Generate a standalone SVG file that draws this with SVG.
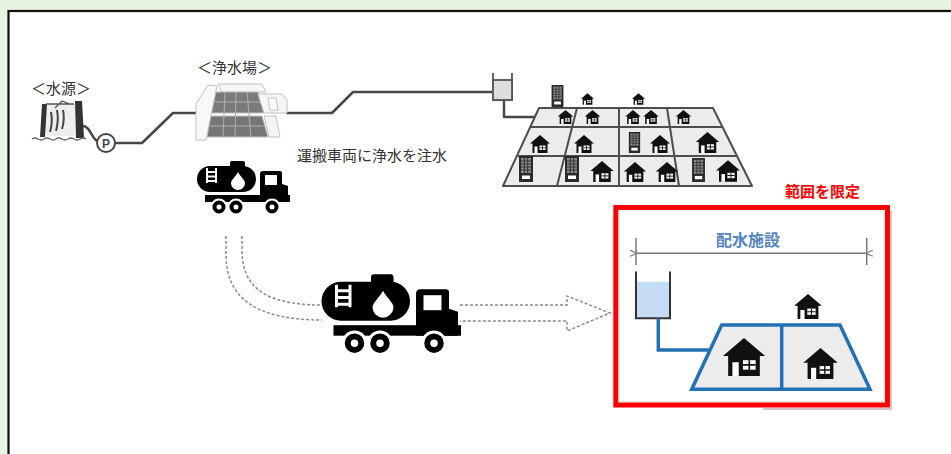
<svg xmlns="http://www.w3.org/2000/svg" width="951" height="454" viewBox="0 0 951 454">
<style>
  .lbl{font-family:"Noto Sans CJK JP","Noto Sans",sans-serif;font-size:15px;fill:#333}
  .pipe{fill:none;stroke:#474747;stroke-width:2.5;stroke-linejoin:round}
  .cell{fill:#ececec;stroke:#4d4d4d;stroke-width:2;stroke-linejoin:round}
  .grid{fill:none;stroke:#4d4d4d;stroke-width:2}
  .dot{fill:none;stroke:#8a8a8a;stroke-width:1.5;stroke-dasharray:3 2}
  .bpipe{fill:none;stroke:#2370b3;stroke-width:3.5;stroke-linejoin:miter}
  .plant{stroke:#c2c2c2;stroke-width:1;stroke-linejoin:round}
</style>
<defs>
  <symbol id="house" viewBox="0 0 40 36">
    <path d="M20,0 L40,17 H35 V36 H5 V17 H0 Z" fill="#111"/>
    <rect x="9" y="23" width="6" height="13" fill="#fff"/>
    <rect x="19" y="21" width="12" height="9" fill="#fff"/>
    <path d="M25,21 V30 M19,25.5 H31" stroke="#111" stroke-width="1.6"/>
  </symbol>
  <symbol id="building" viewBox="0 0 14 26">
    <rect x="0" y="0" width="14" height="26" fill="#2a2a2a"/>
    <rect x="2" y="2" width="10" height="15" fill="#8a8a8a"/>
    <path d="M5.3,2 V17 M8.7,2 V17 M2,5 H12 M2,8 H12 M2,11 H12 M2,14 H12" stroke="#2a2a2a" stroke-width="0.9"/>
    <rect x="3" y="19.5" width="8" height="3.5" fill="#fff"/>
  </symbol>
  <symbol id="truck" viewBox="0 0 95 55">
    <rect x="34" y="1" width="15" height="8" rx="2" fill="#000"/>
    <rect x="1" y="6" width="59" height="26" rx="13" fill="#000"/>
    <path d="M11,8 V23 M20,8 V23 M11,12 H20 M11,16.5 H20 M11,21 H20" stroke="#fff" stroke-width="2"/>
    <path d="M42,12 C40,16 35,20 35,23 A7,7 0 0 0 49,23 C49,20 44,16 42,12 Z" fill="#fff"/>
    <path d="M67,11 H84 Q86,11 86,13 V24 L92,26 V42 H64 V14 Q64,11 67,11 Z" fill="#000"/>
    <rect x="69" y="15" width="12" height="10" fill="#fff"/>
    <rect x="9" y="35" width="85" height="7" fill="#000"/>
    <g fill="#000" stroke="#fff" stroke-width="2">
      <circle cx="23" cy="47" r="7.5"/>
      <circle cx="40" cy="47" r="7.5"/>
      <circle cx="76" cy="47" r="7.5"/>
    </g>
    <g fill="#fff">
      <circle cx="23" cy="47" r="2.5"/>
      <circle cx="40" cy="47" r="2.5"/>
      <circle cx="76" cy="47" r="2.5"/>
    </g>
  </symbol>
  <marker id="dimArrow" viewBox="0 0 8 8" refX="1" refY="4" markerWidth="8" markerHeight="8" orient="auto-start-reverse" markerUnits="userSpaceOnUse">
    <path d="M8,1 L1,4 L8,7" fill="none" stroke="#777" stroke-width="1.2"/>
  </marker>
</defs>

<!-- page background and frame -->
<rect x="0" y="0" width="951" height="454" fill="#e7f4df"/>
<rect x="8.5" y="11" width="960" height="460" fill="#fff" stroke="#111" stroke-width="2.2"/>

<!-- connectors: pipelines and transport routes -->
<g id="connectors">
  <path class="pipe" d="M83,126 C90,126 92,139 97.5,141"/>
  <path class="pipe" d="M115,143 H142 L173,113 H197"/>
  <path class="pipe" d="M286,113 H332 L353,92 H493"/>
  <path class="pipe" d="M504,100 V117 H536"/>
  <path class="dot" d="M242,236 V250 C242,285 262,305 322,305"/>
  <path class="dot" d="M226,236 V255 C226,298 256,320 322,320"/>
  <path class="dot" d="M460,305 H567 V296 L610,313 L567,331 V321 H460"/>
</g>

<!-- water source -->
<g id="water-source">
  <text class="lbl" x="31" y="94">＜水源＞</text>
  <rect x="46" y="104" width="29" height="32" fill="#eee"/>
  <path d="M42,104 H47 L45,137 H40 Z" fill="#333"/>
  <path d="M75,101 H82 L84,138 H76 Z" fill="#333"/>
  <path d="M51,112 Q53,122 50,132 M57,110 Q59,120 56,131 M63,110 Q65,119 62,129" fill="none" stroke="#444" stroke-width="2"/>
  <path d="M46,104 H74 M55,108 L62,101 L70,104" fill="none" stroke="#555" stroke-width="1.3"/>
  <path d="M32,139 q3,-2 6,0 t6,0 t6,0 t6,0 t6,0 t6,0 t6,0 t6,0 t6,0" fill="none" stroke="#666" stroke-width="1.3"/>
</g>

<!-- pump -->
<g id="pump">
  <circle cx="106" cy="143" r="9" fill="#fff" stroke="#474747" stroke-width="2"/>
  <text x="106" y="147.5" text-anchor="middle" style="font-family:'Liberation Sans',sans-serif;font-size:12px;font-weight:bold;fill:#444">P</text>
</g>

<!-- purification plant -->
<g id="purification-plant">
  <text class="lbl" x="197" y="72.5">＜浄水場＞</text>
  <path class="plant" d="M218,84 H262 L266,92 H222 Z" fill="#f6f6f6"/>
  <path class="plant" d="M214,92 H258 L264,113 H211 Z" fill="#7a7a7a"/>
  <path class="plant" d="M210,116 H262 L268,137 H207 Z" fill="#767676"/>
  <path d="M225,92 L223,137 M236,92 L235,137 M247,92 L251,137 M212,102 H261 M210,126 H265" stroke="#b0b0b0" stroke-width="1" fill="none"/>
  <path class="plant" d="M196,104 L208,85 L217,86 L206,140 H196 Z" fill="#f8f8f8"/>
  <path class="plant" d="M258,94 H282 L287,100 V113 H264 Z" fill="#f6f6f6"/>
  <path class="plant" d="M264,116 H276 L280,137 H269 Z" fill="#f4f4f4"/>
  <path class="plant" d="M268,98 L276,98 L278,110 L270,110 Z" fill="#fff"/>
</g>

<!-- distribution tank (town) -->
<g id="town-tank">
  <path d="M493,73 V100 H512 V73" fill="none" stroke="#555" stroke-width="1.8"/>
  <rect x="493" y="80" width="19" height="20" fill="#ddd" stroke="#555" stroke-width="1.8"/>
</g>

<!-- town district -->
<g id="town">
  <path class="cell" d="M539,108 H713 L752,186 H503 Z"/>
  <path class="grid" d="M530,127 H722 M518,156 H737 M577,108 L557,186 M619,108 V186 M667,108 L679,186"/>
  <use href="#building" x="551" y="85" width="13" height="22"/>
  <use href="#house" x="581" y="93" width="13" height="12"/>
  <use href="#house" x="632" y="93" width="13" height="12"/>
  <use href="#house" x="557" y="110" width="17" height="14"/>
  <use href="#house" x="584" y="110" width="17" height="14"/>
  <use href="#house" x="625" y="110" width="16" height="14"/>
  <use href="#house" x="643" y="110" width="16" height="14"/>
  <use href="#house" x="675" y="110" width="17" height="14"/>
  <use href="#house" x="530" y="135" width="20" height="18"/>
  <use href="#house" x="574" y="135" width="20" height="18"/>
  <use href="#building" x="628" y="132" width="13" height="21"/>
  <use href="#house" x="650" y="135" width="20" height="18"/>
  <use href="#house" x="695" y="132" width="25" height="21"/>
  <use href="#building" x="519" y="156" width="14" height="26"/>
  <use href="#building" x="565" y="156" width="14" height="26"/>
  <use href="#house" x="590" y="161" width="24" height="21"/>
  <use href="#house" x="623" y="162" width="24" height="20"/>
  <use href="#house" x="655" y="162" width="24" height="20"/>
  <use href="#building" x="692" y="158" width="13" height="24"/>
  <use href="#house" x="716" y="160" width="24" height="22"/>
</g>

<!-- filling label -->
<g id="fill-label">
  <text class="lbl" x="297" y="160.5">運搬車両に浄水を注水</text>
</g>

<!-- tanker trucks -->
<g id="truck-small">
  <use href="#truck" x="196" y="160" width="95" height="55"/>
</g>
<g id="truck-large">
  <use href="#truck" x="320" y="272.7" width="142.5" height="82.5"/>
</g>

<!-- limited area: distribution facility -->
<g id="limited-area">
  <text x="785" y="197" style="font-family:'Noto Sans CJK JP',sans-serif;font-size:15px;font-weight:bold;fill:#f00">範囲を限定</text>
  <path d="M763,409 H891 V211" fill="none" stroke="#dcc4c4" stroke-width="2"/>
  <rect x="619.5" y="211" width="264.5" height="190.5" fill="#fff" stroke="#e6e6e6" stroke-width="1"/>
  <rect x="615.8" y="207.5" width="271.7" height="197.5" fill="none" stroke="#f00" stroke-width="5"/>
</g>

<g id="distribution-facility">
  <text x="748" y="245.5" text-anchor="middle" style="font-family:'Noto Sans CJK JP',sans-serif;font-size:16px;font-weight:bold;fill:#5584bf">配水施設</text>
  <path d="M636,238 V265 M866.7,238 V265" stroke="#777" stroke-width="1.5"/>
  <path d="M637,253.3 H865.7" stroke="#777" stroke-width="1.5" marker-start="url(#dimArrow)" marker-end="url(#dimArrow)"/>
  <rect x="636" y="281.7" width="34" height="36.6" fill="#c5dcf5"/>
  <path d="M636,271.5 V318.3 H670 V271.5" fill="none" stroke="#333" stroke-width="2"/>
  <path class="bpipe" d="M658.3,318.3 V350 H710"/>
  <path d="M721.7,325 H840 L870,389.3 H691.7 Z" fill="#ececec" stroke="#2370b3" stroke-width="3.5" stroke-linejoin="miter"/>
  <path d="M781.7,325 V389.3" stroke="#2370b3" stroke-width="3.5"/>
  <use href="#house" x="793" y="294" width="30" height="25"/>
  <use href="#house" x="722" y="338" width="44" height="38"/>
  <use href="#house" x="803" y="348" width="35" height="31"/>
</g>
</svg>
